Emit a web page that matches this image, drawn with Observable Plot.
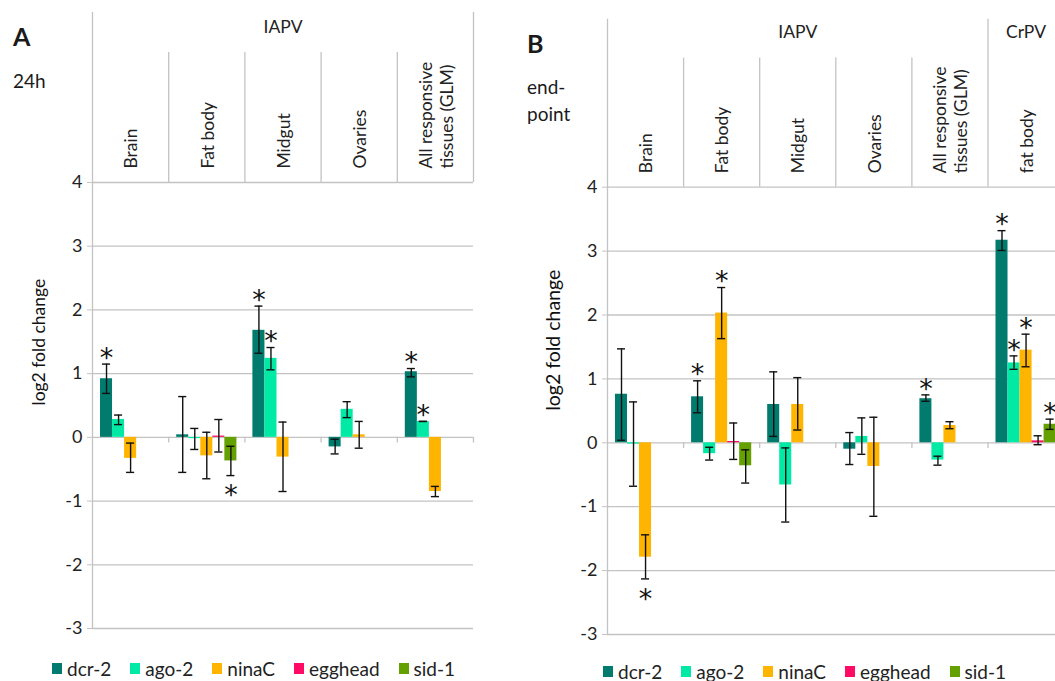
<!DOCTYPE html>
<html><head><meta charset="utf-8">
<script src="https://cdn.jsdelivr.net/npm/d3@7"></script>
<script src="https://cdn.jsdelivr.net/npm/@observablehq/plot@0.6"></script>
<style>
body{margin:0;width:1055px;height:681px;overflow:hidden;background:#fff;font-family:Lato,"Open Sans",sans-serif;position:relative;color:#1a1a1a}
.abs{position:absolute}
.lbl{font-size:25px;font-weight:bold}
.sub{font-size:19px;line-height:27px}
.legend{display:flex;align-items:center;font-size:19px;line-height:17px;color:#222}
.legend .it{display:flex;align-items:center;margin-right:19px}
.legend .sw{width:10px;height:11px;margin-right:5px}
svg{max-width:none!important}
</style></head><body>
<div id="A" class="abs" style="left:0;top:0;width:520px"></div>
<div id="B" class="abs" style="left:520px;top:0;width:555px"></div>
<div class="abs lbl" style="left:13px;top:21px">A</div>
<div class="abs sub" style="left:13px;top:67px">24h</div>
<div class="abs lbl" style="left:527px;top:28px">B</div>
<div class="abs sub" style="left:527px;top:73px">end-<br>point</div>
<div id="legA" class="abs legend" style="left:52px;top:660px"></div>
<div id="legB" class="abs legend" style="left:603px;top:663px"></div>
<script>
// ---------- data ----------
const genes = ["dcr-2", "ago-2", "ninaC", "egghead", "sid-1"];
const geneColors = ["#007B6E", "#00EAA6", "#FFB400", "#FF0A64", "#63A000"];
const yTicks = [-3, -2, -1, 0, 1, 2, 3, 4];

// Panel A (24h)
const categoriesA = ["Brain", "Fat body", "Midgut", "Ovaries", "All responsive\ntissues (GLM)"];
const virusA = ["IAPV", "IAPV", "IAPV", "IAPV", "IAPV"];
const dcr2A     = [0.92, 0.04, 1.68, -0.15, 1.03];
const dcr2A_lo  = [0.69, -0.55, 1.32, -0.26, 0.95];
const dcr2A_hi  = [1.15, 0.64, 2.06, -0.03, 1.08];
const dcr2A_sig = [1, 0, 1, 0, 1];
const ago2A     = [0.28, -0.02, 1.24, 0.44, 0.25];
const ago2A_lo  = [0.20, -0.19, 1.06, 0.31, 0.25];
const ago2A_hi  = [0.35, 0.14, 1.41, 0.56, 0.25];
const ago2A_sig = [0, 0, 1, 0, 1];
const ninaCA     = [-0.33, -0.29, -0.31, 0.04, -0.85];
const ninaCA_lo  = [-0.55, -0.65, -0.85, -0.17, -0.93];
const ninaCA_hi  = [-0.09, 0.08, 0.24, 0.25, -0.77];
const ninaCA_sig = [0, 0, 0, 0, 0];
const eggheadA     = [null, 0.02, null, null, null];
const eggheadA_lo  = [null, -0.23, null, null, null];
const eggheadA_hi  = [null, 0.28, null, null, null];
const eggheadA_sig = [0, 0, 0, 0, 0];
const sid1A     = [null, -0.37, null, null, null];
const sid1A_lo  = [null, -0.60, null, null, null];
const sid1A_hi  = [null, -0.14, null, null, null];
const sid1A_sig = [0, 1, 0, 0, 0];

// Panel B (end-point)
const categoriesB = ["Brain", "Fat body", "Midgut", "Ovaries", "All responsive\ntissues (GLM)", "fat body"];
const virusB = ["IAPV", "IAPV", "IAPV", "IAPV", "IAPV", "CrPV"];
const dcr2B     = [0.76, 0.72, 0.60, -0.10, 0.69, 3.17];
const dcr2B_lo  = [0.04, 0.47, 0.10, -0.34, 0.65, 3.01];
const dcr2B_hi  = [1.47, 0.97, 1.11, 0.16, 0.75, 3.32];
const dcr2B_sig = [0, 1, 0, 0, 1, 1];
const ago2B     = [-0.02, -0.17, -0.66, 0.10, -0.27, 1.25];
const ago2B_lo  = [-0.68, -0.27, -1.24, -0.18, -0.35, 1.15];
const ago2B_hi  = [0.64, -0.07, -0.08, 0.39, -0.21, 1.36];
const ago2B_sig = [0, 0, 0, 0, 0, 1];
const ninaCB     = [-1.79, 2.03, 0.60, -0.37, 0.27, 1.45];
const ninaCB_lo  = [-2.13, 1.63, 0.20, -1.15, 0.22, 1.19];
const ninaCB_hi  = [-1.44, 2.43, 1.02, 0.40, 0.33, 1.70];
const ninaCB_sig = [1, 1, 0, 0, 0, 1];
const eggheadB     = [null, 0.02, null, null, null, 0.03];
const eggheadB_lo  = [null, -0.26, null, null, null, -0.03];
const eggheadB_hi  = [null, 0.31, null, null, null, 0.11];
const eggheadB_sig = [0, 0, 0, 0, 0, 0];
const sid1B     = [null, -0.36, null, null, null, 0.29];
const sid1B_lo  = [null, -0.63, null, null, null, 0.21];
const sid1B_hi  = [null, -0.11, null, null, null, 0.37];
const sid1B_sig = [0, 0, 0, 0, 0, 1];

const seriesA = [
  [dcr2A, dcr2A_lo, dcr2A_hi, dcr2A_sig],
  [ago2A, ago2A_lo, ago2A_hi, ago2A_sig],
  [ninaCA, ninaCA_lo, ninaCA_hi, ninaCA_sig],
  [eggheadA, eggheadA_lo, eggheadA_hi, eggheadA_sig],
  [sid1A, sid1A_lo, sid1A_hi, sid1A_sig]
];
const seriesB = [
  [dcr2B, dcr2B_lo, dcr2B_hi, dcr2B_sig],
  [ago2B, ago2B_lo, ago2B_hi, ago2B_sig],
  [ninaCB, ninaCB_lo, ninaCB_hi, ninaCB_sig],
  [eggheadB, eggheadB_lo, eggheadB_hi, eggheadB_sig],
  [sid1B, sid1B_lo, sid1B_hi, sid1B_sig]
];

// ---------- drawing ----------
const FONT = "Lato, 'Open Sans', sans-serif";
const GRID = "#c3c3c3";
const bandFrac = 0.79;
const bw = bandFrac / genes.length;
const capHalf = 0.053;

function buildRows(series) {
  const rows = [];
  series.forEach(([vals, lo, hi, sig], g) => {
    vals.forEach((v, i) => {
      if (v == null) return;
      const x1 = i + 0.5 + (g - genes.length / 2) * bw;
      rows.push({gene: genes[g], v, lo: lo[i], hi: hi[i], sig: sig[i], x1, x2: x1 + bw, xc: x1 + bw / 2});
    });
  });
  return rows;
}

function panel(cfg) {
  const {cats, virus, series, width, height, marginLeft, marginRight, marginTop, marginBottom,
         outerTop, innerTop, virusY, catDy, labelDx, labelSize} = cfg;
  const n = cats.length;
  const rows = buildRows(series);
  const groups = d3.groups(virus.map((v, i) => ({v, i})), d => d.v)
    .map(([name, arr]) => ({name, start: d3.min(arr, d => d.i), end: d3.max(arr, d => d.i) + 1}));
  const outer = Array.from(new Set([0, ...groups.map(g => g.end)]));
  const inner = d3.range(1, n).filter(b => !outer.includes(b));
  const bounds = d3.range(1, n + 1);
  return Plot.plot({
    width, height, marginLeft, marginRight, marginTop, marginBottom,
    x: {domain: [0, n], axis: null},
    y: {domain: [-3, 4], axis: null},
    style: {fontFamily: FONT, overflow: "visible", background: "transparent", maxWidth: "none"},
    marks: [
      Plot.ruleY(yTicks, {stroke: GRID, strokeWidth: 1.3}),
      Plot.ruleX(bounds, {x: d => d, y1: 0, y2: -0.09, stroke: GRID, strokeWidth: 1.3}),
      Plot.ruleX(outer, {x: d => d, y1: d => d === 0 ? -3 : 4, y2: outerTop, stroke: GRID, strokeWidth: 1.3}),
      Plot.ruleX(inner, {x: d => d, y1: 4, y2: innerTop, stroke: GRID, strokeWidth: 1.3}),
      Plot.axisY({ticks: yTicks, tickFormat: d => String(d), tickSize: 5, tickPadding: 5,
                  fontSize: 18, stroke: GRID, fill: "#222", label: null}),
      Plot.text(["log2 fold change"], {frameAnchor: "left", dx: labelDx, rotate: -90,
                  fontSize: labelSize, fill: "#111", text: d => d}),
      Plot.text(groups, {x: d => (d.start + d.end) / 2, y: virusY, text: d => d.name, fontSize: 17.5, fill: "#222"}),
      Plot.text(cats, {x: (d, i) => i + 0.5, y: 4, dy: catDy, text: d => d, rotate: -90,
                  textAnchor: "start", lineAnchor: "middle", lineHeight: 1.2, fontSize: 17.5, fill: "#222"}),
      Plot.rectY(rows, {x1: "x1", x2: "x2", y: "v", fill: d => geneColors[genes.indexOf(d.gene)]}),
      Plot.ruleX(rows, {x: "xc", y1: "lo", y2: "hi", stroke: "#111", strokeWidth: 1.4}),
      Plot.ruleY(rows, {y: "lo", x1: d => d.xc - capHalf, x2: d => d.xc + capHalf, stroke: "#111", strokeWidth: 1.4}),
      Plot.ruleY(rows, {y: "hi", x1: d => d.xc - capHalf, x2: d => d.xc + capHalf, stroke: "#111", strokeWidth: 1.4}),
      Plot.text(rows.filter(d => d.sig && d.v > 0), {x: "xc", y: "hi", text: () => "*", dy: -6, fontSize: 27,
                  fontFamily: "DejaVu Sans", fill: "#111"}),
      Plot.text(rows.filter(d => d.sig && d.v <= 0), {x: "xc", y: "lo", text: () => "*", dy: 20, fontSize: 27,
                  fontFamily: "DejaVu Sans", fill: "#111"})
    ]
  });
}

document.getElementById("A").append(panel({
  cats: categoriesA, virus: virusA, series: seriesA,
  width: 520, height: 660, marginLeft: 92, marginRight: 47, marginTop: 182, marginBottom: 32,
  outerTop: 6.67, innerTop: 6.04, virusY: 6.43, catDy: -14, labelDx: -53, labelSize: 17.5
}));
document.getElementById("B").append(panel({
  cats: categoriesB, virus: virusB, series: seriesB,
  width: 555, height: 660, marginLeft: 87, marginRight: 11.4, marginTop: 186.7, marginBottom: 26,
  outerTop: 6.63, innerTop: 6.02, virusY: 6.43, catDy: -14, labelDx: -54, labelSize: 19.5
}));

function legend(id) {
  const el = document.getElementById(id);
  genes.forEach((g, i) => {
    const it = document.createElement("div"); it.className = "it";
    const sw = document.createElement("div"); sw.className = "sw"; sw.style.background = geneColors[i];
    const t = document.createElement("span"); t.textContent = g;
    it.append(sw, t); el.append(it);
  });
}
legend("legA"); legend("legB");
</script>
</body></html>
